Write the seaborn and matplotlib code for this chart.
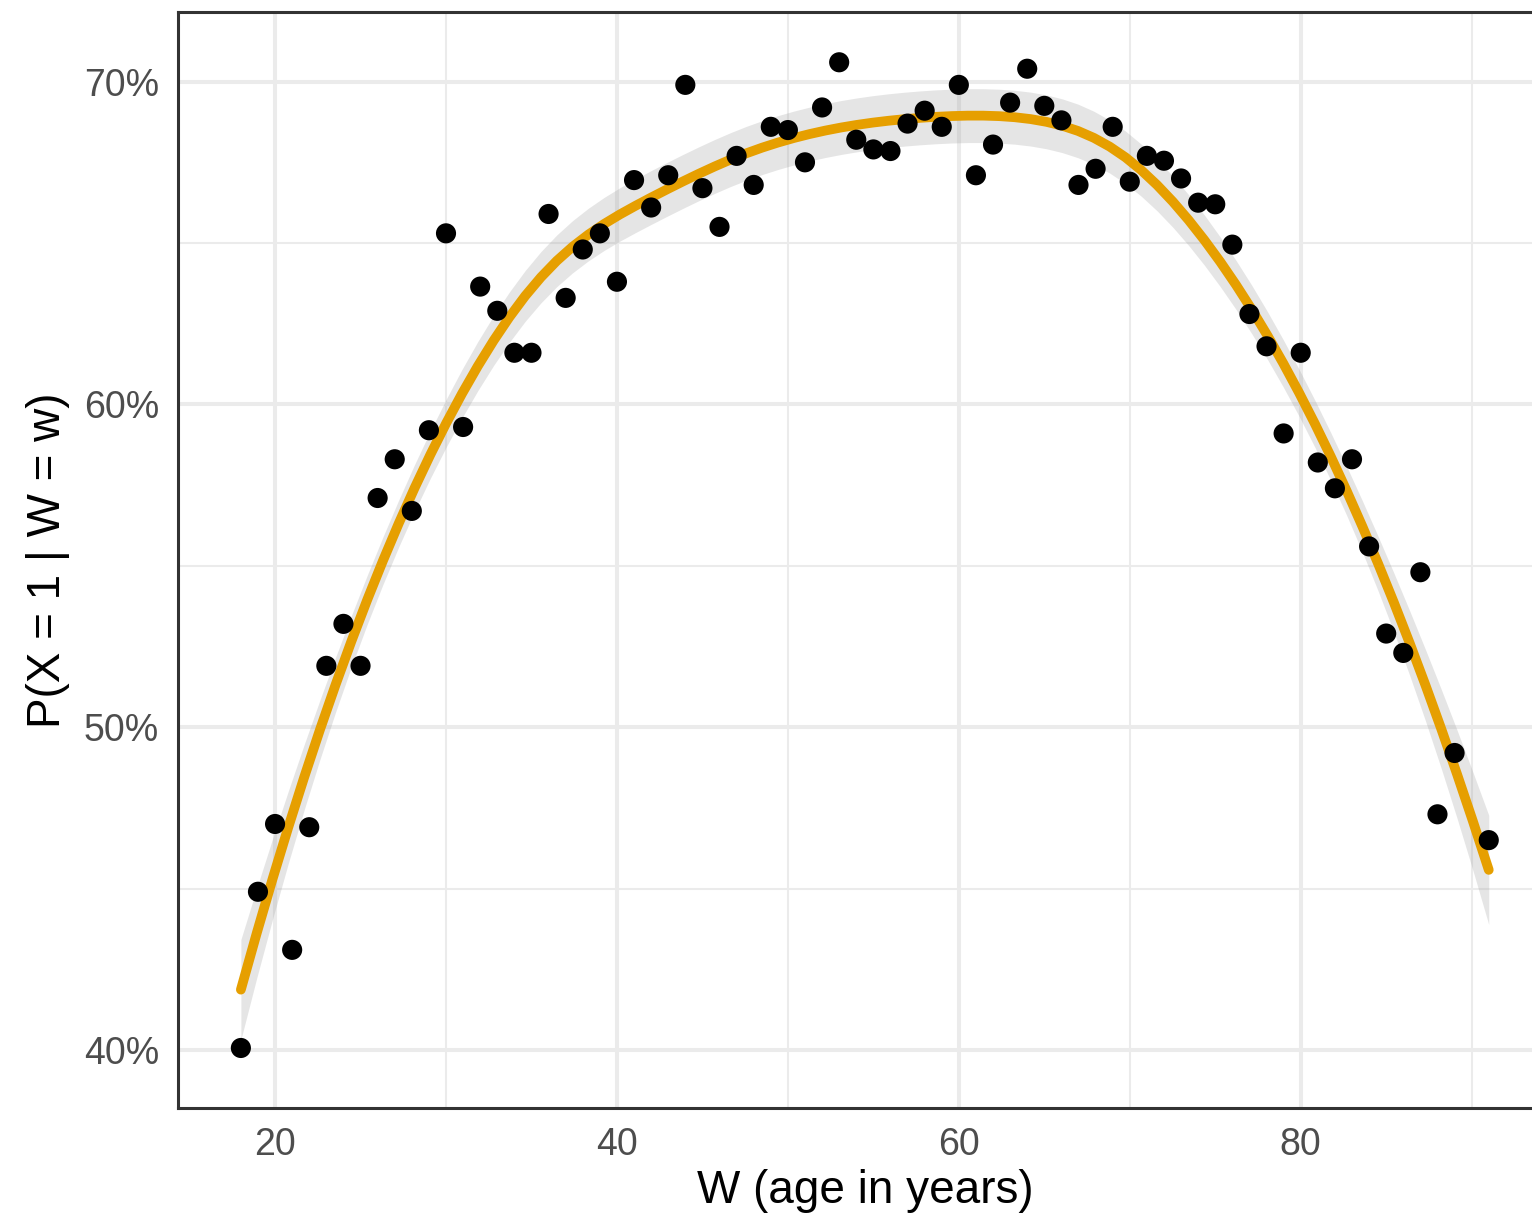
import numpy as np
import pandas as pd
import seaborn as sns
import matplotlib.pyplot as plt
from matplotlib.ticker import FuncFormatter, FixedLocator

# ages (W) and observed share P(X = 1 | W = w), in percent
ages = [18, 19, 20, 21, 22, 23, 24, 25, 26, 27, 28, 29, 30, 31, 32, 33, 34, 35,
        36, 37, 38, 39, 40, 41, 42, 43, 44, 45, 46, 47, 48, 49, 50, 51, 52, 53,
        54, 55, 56, 57, 58, 59, 60, 61, 62, 63, 64, 65, 66, 67, 68, 69, 70, 71,
        72, 73, 74, 75, 76, 77, 78, 79, 80, 81, 82, 83, 84, 85, 86, 87, 88, 89, 91]
share = [40.06, 44.9, 47.0, 43.1, 46.9, 51.9, 53.2, 51.9, 57.1, 58.3, 56.7, 59.2,
         65.3, 59.3, 63.65, 62.9, 61.6, 61.6, 65.9, 63.3, 64.8, 65.3, 63.8, 66.95,
         66.1, 67.1, 69.9, 66.7, 65.5, 67.7, 66.8, 68.6, 68.5, 67.5, 69.2, 70.6,
         68.2, 67.9, 67.85, 68.7, 69.1, 68.6, 69.9, 67.1, 68.05, 69.35, 70.4, 69.25,
         68.8, 66.8, 67.3, 68.6, 66.9, 67.7, 67.55, 67.0, 66.25, 66.2, 64.95, 62.8,
         61.8, 59.1, 61.6, 58.2, 57.4, 58.3, 55.6, 52.9, 52.3, 54.8, 47.3, 49.2, 46.5]

x_ticks = [20, 40, 60, 80]
y_ticks = [40, 50, 60, 70]

df = pd.DataFrame({"age": ages, "share": share})
SPANS = np.linspace(0.5, 0.7, 21)


def loess_operator(x, pts, span):
    # local quadratic with tricube weights, one smoother row per point
    n = len(x)
    q = int(np.floor(n * span))
    L = np.zeros((len(pts), n))
    for i, x0 in enumerate(pts):
        d = np.abs(x - x0)
        h = np.sort(d)[q - 1]
        w = np.clip(1 - (d / h) ** 3, 0, None) ** 3
        X = np.column_stack([np.ones(n), x - x0, (x - x0) ** 2])
        XtW = X.T * w
        L[i] = np.linalg.solve(XtW @ X, XtW)[0]
    return L


def smoother(x, pts):
    # average over a band of spans so the window switches don't leave kinks
    return np.mean([loess_operator(x, pts, s) for s in SPANS], axis=0)


x = df.age.to_numpy(float)
y = df.share.to_numpy(float)
grid = np.linspace(x.min(), x.max(), 80)

M = np.eye(len(x)) - smoother(x, x)
sigma = np.sqrt(np.sum((M @ y) ** 2) / np.trace(M.T @ M))

L_grid = smoother(x, grid)
fit = L_grid @ y
se = sigma * np.sqrt(np.sum(L_grid ** 2, axis=1))
smooth = pd.DataFrame({"age": grid, "fit": fit,
                       "lo": fit - 1.99 * se, "hi": fit + 1.99 * se})

sns.set_style("white")
plt.rcParams['font.family'] = ['Liberation Sans', 'DejaVu Sans']

fig = plt.figure(figsize=(15.32, 12.25), dpi=100)
ax = fig.add_axes([0.1165, 0.0955, 0.8960, 0.8945])

ax.fill_between(smooth.age, smooth.lo, smooth.hi, color="#999999", alpha=0.25,
                linewidth=0, zorder=2)
sns.lineplot(data=smooth, x="age", y="fit", color="#E69F00", linewidth=7,
             ax=ax, zorder=3)
sns.scatterplot(data=df, x="age", y="share", color="black", s=210,
                edgecolor="none", ax=ax, zorder=4)

ax.set_xlim(14.35, 94.65)
ax.set_ylim(38.2, 72.15)

ax.xaxis.set_major_locator(FixedLocator(x_ticks))
ax.yaxis.set_major_locator(FixedLocator(y_ticks))
ax.xaxis.set_minor_locator(FixedLocator([30, 50, 70, 90]))
ax.yaxis.set_minor_locator(FixedLocator([45, 55, 65]))
ax.yaxis.set_major_formatter(FuncFormatter(lambda v, p: f"{v:.0f}%"))

ax.grid(which="major", color="#EBEBEB", linewidth=2.9, zorder=0)
ax.grid(which="minor", color="#EBEBEB", linewidth=1.5, zorder=0)
ax.set_axisbelow(True)

for s in ax.spines.values():
    s.set_color("#333333")
    s.set_linewidth(2.2)

ax.tick_params(which="major", length=9, width=2.2, color="#333333",
               labelsize=27, labelcolor="#4D4D4D", pad=5)
ax.tick_params(which="minor", length=0)

ax.set_xlabel("W (age in years)", fontsize=33, color="black", labelpad=4)
ax.set_ylabel("P(X = 1 | W = w)", fontsize=33, color="black", labelpad=10)

fig.savefig("out.png", dpi=100)
